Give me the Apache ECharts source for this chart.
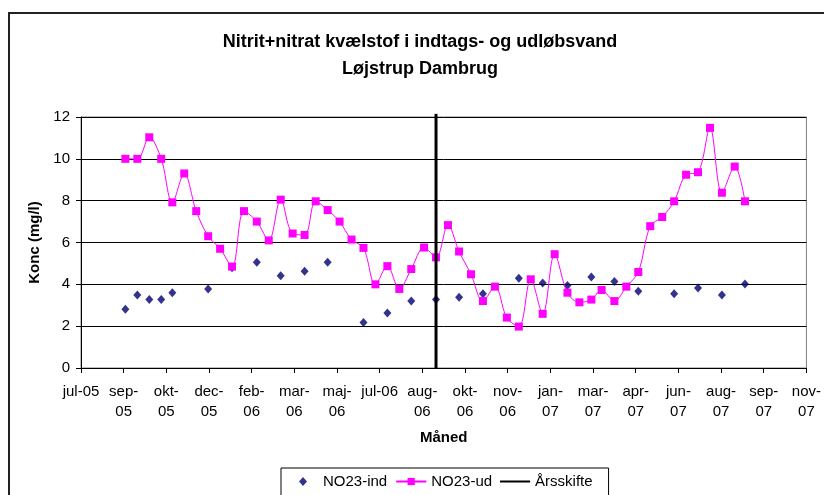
<!DOCTYPE html>
<html>
<head>
<meta charset="utf-8">
<script src="https://cdn.jsdelivr.net/npm/echarts@6/dist/echarts.min.js"></script>
<style>
html,body{margin:0;padding:0;background:#fff;}
#chart{width:824px;height:495px;}
</style>
</head>
<body>
<div id="chart"></div>
<script>
// ---- Data ----
const udDates = ['2005-09-07','2005-09-21','2005-10-05','2005-10-19','2005-11-01','2005-11-15','2005-11-29','2005-12-13','2005-12-27',
  '2006-01-10','2006-01-24','2006-02-08','2006-02-22','2006-03-08','2006-03-22','2006-04-05','2006-04-18','2006-05-02','2006-05-16',
  '2006-05-30','2006-06-13','2006-06-27','2006-07-11','2006-07-25','2006-08-08','2006-08-23','2006-09-06','2006-09-20','2006-10-03',
  '2006-10-17','2006-10-31','2006-11-14','2006-11-28','2006-12-12','2006-12-26','2007-01-09','2007-01-23','2007-02-07','2007-02-21',
  '2007-03-07','2007-03-19','2007-04-03','2007-04-17','2007-05-01','2007-05-15','2007-05-29','2007-06-12','2007-06-26','2007-07-10',
  '2007-07-24','2007-08-07','2007-08-22','2007-09-03'];
const udValues = [10.0,10.0,11.03,10.0,7.92,9.3,7.5,6.3,5.7,
  4.85,7.5,7.0,6.1,8.05,6.43,6.36,7.97,7.55,7.0,
  6.14,5.74,4.0,4.87,3.78,4.73,5.76,5.29,6.83,5.57,
  4.48,3.2,3.89,2.41,1.98,4.24,2.59,5.44,3.6,3.14,
  3.27,3.73,3.2,3.89,4.59,6.78,7.22,7.97,9.24,9.36,
  11.48,8.38,9.63,7.97];
const indDates = ['2005-09-07','2005-09-21','2005-10-05','2005-10-19','2005-11-01','2005-12-13','2006-01-10','2006-02-08','2006-03-08',
  '2006-04-05','2006-05-02','2006-06-13','2006-07-11','2006-08-08','2006-09-06','2006-10-03','2006-10-31','2006-12-12',
  '2007-01-09','2007-02-07','2007-03-07','2007-04-03','2007-05-01','2007-06-12','2007-07-10','2007-08-07','2007-09-03'];
const indValues = [2.81,3.49,3.27,3.27,3.6,3.78,4.79,5.05,4.41,
  4.63,5.05,2.17,2.63,3.2,3.27,3.38,3.55,4.29,
  4.06,3.95,4.35,4.13,3.67,3.55,3.82,3.49,4.01];
const yearChangeDates = ['2006-09-06','2006-09-06'];
const yearChangeValues = [0, 12.15];
const xAxisMin = '2005-07-17';
const xAxisMax = '2007-11-14';
const xTickDays = 50;
const yTicks = [0,2,4,6,8,10,12];
const monthNames = ['jan','feb','mar','apr','maj','jun','jul','aug','sep','okt','nov','dec'];

// ---- Helpers ----
const EPOCH = Date.UTC(1899,11,30);
function serial(s){ const p = s.split('-').map(Number); return Math.round((Date.UTC(p[0],p[1]-1,p[2]) - EPOCH)/86400000); }
function pairs(ds, vs){ return ds.map((d,i)=>[serial(d), vs[i]]); }
function fmt(v){
  const dt = new Date(EPOCH + v*86400000);
  const m = monthNames[dt.getUTCMonth()];
  const yy = String(dt.getUTCFullYear()).slice(2);
  return m === 'jul' ? m + '-' + yy : m + '-\n' + yy;
}
const FONT = '"Liberation Sans", Arial, sans-serif';
const FS = 15;

const chart = echarts.init(document.getElementById('chart'), null, {renderer:'canvas'});
chart.setOption({
  animation: false,
  backgroundColor: '#fff',
  textStyle: {fontFamily: FONT},
  graphic: [{
    type: 'rect', silent: true, z: -1,
    shape: {x: 9, y: 13, width: 1000, height: 600},
    style: {fill: 'none', stroke: '#222', lineWidth: 2}
  }],
  title: {
    text: 'Nitrit+nitrat kvælstof i indtags- og udløbsvand\nLøjstrup Dambrug',
    left: 420, top: 29, textAlign: 'center', padding: 0,
    textStyle: {fontFamily: FONT, fontSize: 18, fontWeight: 'bold', color: '#000', lineHeight: 27}
  },
  grid: {left: 81, top: 117, width: 727, height: 251, show: true, borderColor: '#808080', borderWidth: 1, containLabel: false},
  xAxis: {
    type: 'value', min: serial(xAxisMin), max: serial(xAxisMax), interval: xTickDays,
    name: 'Måned', nameLocation: 'middle', nameGap: 62,
    nameTextStyle: {fontFamily: FONT, fontSize: FS, fontWeight: 'bold', color: '#000'},
    axisLine: {show: true, lineStyle: {color: '#000', width: 1}},
    axisTick: {show: true, length: 5, lineStyle: {color: '#000'}},
    splitLine: {show: false},
    axisLabel: {formatter: fmt, margin: 14, fontFamily: FONT, fontSize: FS, color: '#000', lineHeight: 20, showMinLabel: true, showMaxLabel: true}
  },
  yAxis: {
    type: 'value', min: yTicks[0], max: yTicks[yTicks.length-1], interval: yTicks[1]-yTicks[0],
    name: 'Konc (mg/l)', nameLocation: 'middle', nameGap: 33,
    nameTextStyle: {fontFamily: FONT, fontSize: FS, fontWeight: 'bold', color: '#000'},
    axisLine: {show: true, lineStyle: {color: '#000', width: 1}},
    axisTick: {show: true, length: 5, lineStyle: {color: '#000'}},
    splitLine: {show: true, lineStyle: {color: '#000', width: 1}},
    axisLabel: {margin: 11, fontFamily: FONT, fontSize: FS, color: '#000'}
  },
  legend: {
    left: 281, top: 468, padding: [6, 16, 20, 7],
    borderColor: '#000', borderWidth: 1,
    itemWidth: 30, itemHeight: 9, itemGap: 8, symbolKeepAspect: false,
    textStyle: {fontFamily: FONT, fontSize: FS, color: '#000'},
    data: [
      {name: 'NO23-ind', icon: 'path://M0,0L0,0ZM30,9L30,9ZM15,0L19,4.5L15,9L11,4.5Z'},
      {name: 'NO23-ud'},
      {name: 'Årsskifte', icon: 'path://M0,0L0,0ZM30,9L30,9ZM0,3.5H34V5.5H0Z'}
    ]
  },
  series: [
    {
      name: 'NO23-ind', type: 'scatter', data: pairs(indDates, indValues),
      symbol: 'diamond', symbolSize: [8, 9],
      itemStyle: {color: '#000070'}, z: 3
    },
    {
      name: 'NO23-ud', type: 'line', data: pairs(udDates, udValues),
      smooth: 0.35, symbol: 'rect', symbolSize: 8, showAllSymbol: true,
      lineStyle: {color: '#FF00FF', width: 1},
      itemStyle: {color: '#FF00FF'}, z: 4
    },
    {
      name: 'Årsskifte', type: 'line', data: pairs(yearChangeDates, yearChangeValues),
      symbol: 'none', clip: false,
      lineStyle: {color: '#000', width: 3},
      itemStyle: {color: '#000'}, z: 5
    }
  ]
});
</script>
</body>
</html>
